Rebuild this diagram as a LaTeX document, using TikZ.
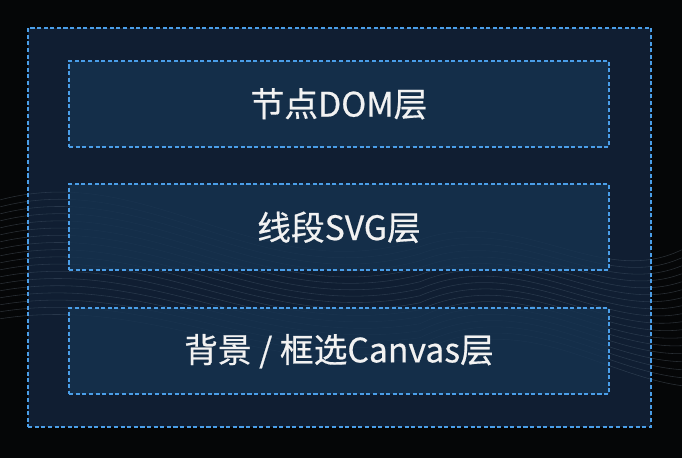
\documentclass[tikz,border=0pt]{standalone}
\usepackage{fontspec}
\setmainfont{Noto Sans CJK SC}
\newfontfamily\layerfont{Noto Sans CJK SC}[FakeBold=0.5]
\usepackage{tikz}

\definecolor{bgblack}{HTML}{050607}
\definecolor{panelblue}{HTML}{12233A}
\definecolor{layerblue}{HTML}{15324F}
\definecolor{dashblue}{HTML}{4A9EE8}
\definecolor{wavegray}{HTML}{8090A0}

\tikzset{
    panel/.style={draw=dashblue, line width=1.4pt, dash pattern=on 2.9pt off 1.8pt, fill=panelblue, fill opacity=0.85, text opacity=1},
    layerbox/.style={draw=dashblue, line width=1.4pt, dash pattern=on 2.9pt off 1.8pt, fill=layerblue, fill opacity=0.8, text opacity=1,
        minimum width=13.5cm, minimum height=2.15cm, text=white!95!black, font=\layerfont\fontsize{24}{28}\selectfont},
    wave/.style={wavegray, line width=0.4pt}
}

\begin{document}
\begin{tikzpicture}[x=0.025cm, y=-0.025cm]
        % Background
        \fill[bgblack] (0,0) rectangle (682,458);
        \foreach \k in {0,...,17} {
            \draw[wave, opacity=0.3]
                (0,{200+7*\k}) .. controls (150,{160+8*\k}) and (260,{290+5*\k}) .. (420,{240+7*\k})
                .. controls (520,{205+6*\k}) and (600,{290+5*\k}) .. (682,{250+8*\k});
        }
        
        % Outer panel
        \node[panel, minimum width=15.575cm, minimum height=9.975cm, inner sep=0pt] (stage) at (339.5,227.5) {};
        \begin{scope}
            \clip (stage.south west) rectangle (stage.north east);
            \foreach \k in {0,...,17} {
                \draw[wave, opacity=0.18]
                    (0,{200+7*\k}) .. controls (150,{160+8*\k}) and (260,{290+5*\k}) .. (420,{240+7*\k})
                    .. controls (520,{205+6*\k}) and (600,{290+5*\k}) .. (682,{250+8*\k});
            }
        \end{scope}
        
        % Layers
        \node[layerbox] (domlayer) at (339,104) {节点DOM层};
        \node[layerbox] (svglayer) at (339,227.5) {线段SVG层};
        \node[layerbox] (canvaslayer) at (339,351.5) {背景 / 框选Canvas层};
    \end{tikzpicture}
\end{document}
